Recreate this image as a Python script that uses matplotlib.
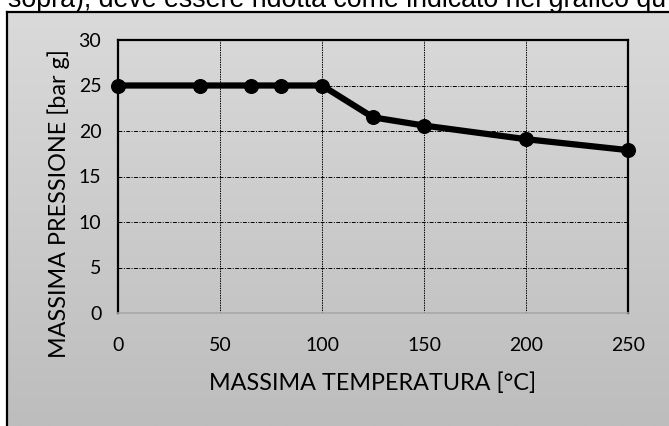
import numpy as np
import matplotlib
matplotlib.use("Agg")
import matplotlib.pyplot as plt

# dati
temperatura = [0, 40, 65, 80, 100, 125, 150, 200, 250]
pressione = [25, 25, 25, 25, 25, 21.5, 20.6, 19.1, 17.9]
xticks = [0, 50, 100, 150, 200, 250]
yticks = [0, 5, 10, 15, 20, 25, 30]

W, H = 669, 426
fig = plt.figure(figsize=(W / 100, H / 100), dpi=100)
fig.patch.set_facecolor('white')

# testo tagliato in alto (come nella pagina originale)
fig.text(8 / W, 1 - 7 / H, 'sopra), deve essere ridotta come indicato nel grafico qu',
         family='Liberation Sans', fontsize=19.3, va='baseline', ha='left')

# cornice con sfondo sfumato
x0, ytop = 7 / W, 1 - 12 / H
bg = fig.add_axes([x0, 0, 1 - x0, ytop])
grad = np.linspace(0, 1, 256).reshape(-1, 1)
bg.imshow(grad, cmap=matplotlib.colors.LinearSegmentedColormap.from_list('g', ['#dadada', '#bdbdbd']),
          aspect='auto', extent=[0, 1, 0, 1], origin='upper')
bg.set_xlim(0, 1)
bg.set_ylim(0, 1)
for s in ['left', 'top']:
    bg.spines[s].set_linewidth(1.6)
    bg.spines[s].set_color('black')
for s in ['right', 'bottom']:
    bg.spines[s].set_visible(False)
bg.set_xticks([])
bg.set_yticks([])

ax = fig.add_axes([118 / W, 1 - 313 / H, (628 - 118) / W, (313 - 40) / H])
ax.set_facecolor('none')
ax.set_xlim(0, 250)
ax.set_ylim(0, 30)
ax.set_xticks(xticks)
ax.set_yticks(yticks)

for y in yticks[1:-1]:
    ax.axhline(y, color='black', lw=0.7, dashes=(4, 1.5, 1, 1.5), zorder=1)
for x in xticks[1:-1]:
    ax.axvline(x, color='black', lw=0.7, dashes=(1.5, 1), zorder=1)

ax.plot(temperatura, pressione, color='black', lw=4.5, marker='o', markersize=9.8,
        clip_on=False, zorder=3)

for s in ['left', 'right', 'top']:
    ax.spines[s].set_linewidth(1.6)
    ax.spines[s].set_color('black')
ax.spines['bottom'].set_color('#a8a8a8')
ax.spines['bottom'].set_linewidth(1.2)

ax.tick_params(length=0, labelsize=14, colors='black')
ax.tick_params(axis='x', pad=17)
ax.tick_params(axis='y', pad=12)
for lab in ax.get_xticklabels() + ax.get_yticklabels():
    lab.set_family('Lato')

ax.set_xlabel('MASSIMA TEMPERATURA [°C]', family='Lato', fontsize=16.8, color='black')
ax.set_ylabel('MASSIMA PRESSIONE [bar g]', family='Lato', fontsize=16.8, color='black')
ax.xaxis.set_label_coords(0.5, -(383 - 313) / 273, transform=ax.transAxes)
ax.yaxis.set_label_coords(-(118 - 59) / 510, (313 - 204) / 273, transform=ax.transAxes)
ax.xaxis.label.set_va('center')
ax.yaxis.label.set_va('center')

fig.savefig('out.png', dpi=100)
